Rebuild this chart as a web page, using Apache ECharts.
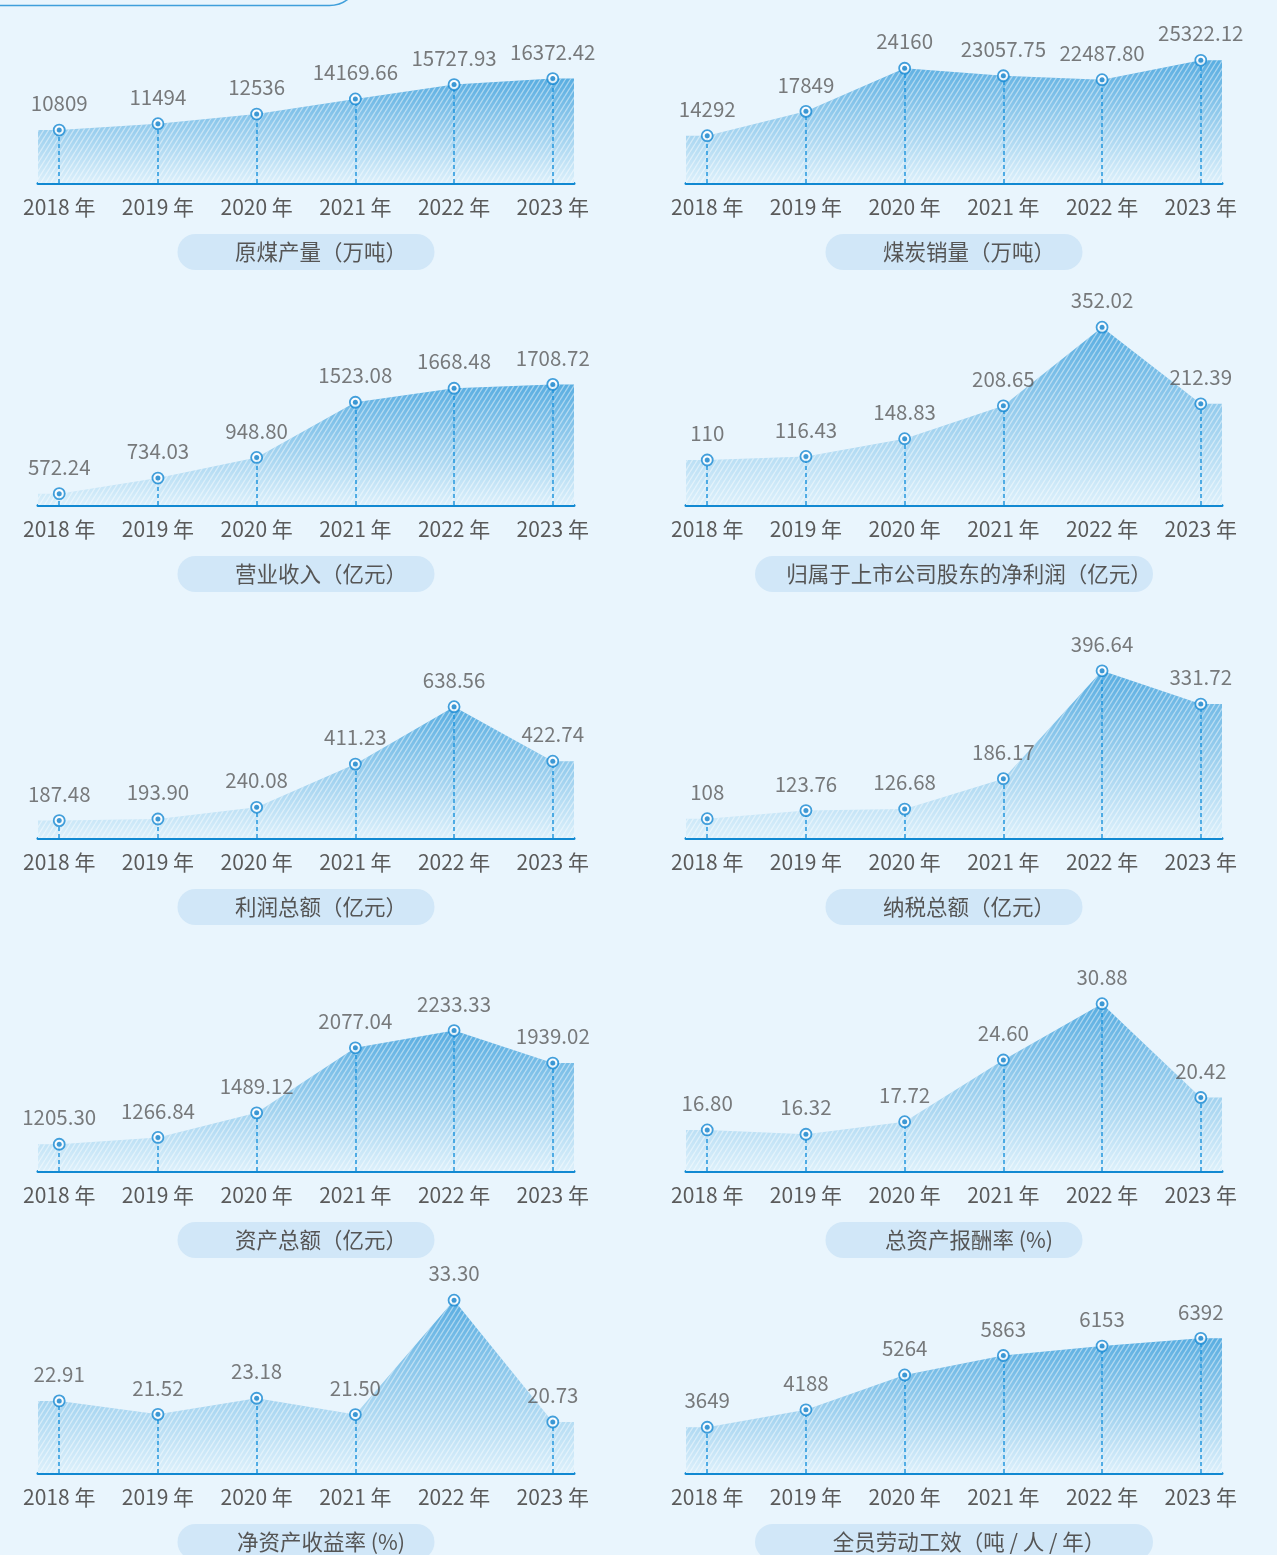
<!DOCTYPE html>
<html><head><meta charset="utf-8">
<script src="https://cdn.jsdelivr.net/npm/echarts@6/dist/echarts.min.js"></script>
<style>html,body{margin:0;padding:0;background:#e9f5fd;}#c{width:1277px;height:1555px;}</style>
</head><body><div id="c"></div>
<script>
// ---- data ----
const years = ['2018', '2019', '2020', '2021', '2022', '2023'];
const coalOutput   = ['10809', '11494', '12536', '14169.66', '15727.93', '16372.42'];
const coalSales    = ['14292', '17849', '24160', '23057.75', '22487.80', '25322.12'];
const revenue      = ['572.24', '734.03', '948.80', '1523.08', '1668.48', '1708.72'];
const netProfit    = ['110', '116.43', '148.83', '208.65', '352.02', '212.39'];
const totalProfit  = ['187.48', '193.90', '240.08', '411.23', '638.56', '422.74'];
const totalTax     = ['108', '123.76', '126.68', '186.17', '396.64', '331.72'];
const totalAssets  = ['1205.30', '1266.84', '1489.12', '2077.04', '2233.33', '1939.02'];
const roa          = ['16.80', '16.32', '17.72', '24.60', '30.88', '20.42'];
const roe          = ['22.91', '21.52', '23.18', '21.50', '33.30', '20.73'];
const productivity = ['3649', '4188', '5264', '5863', '6153', '6392'];
const titles = ['原煤产量（万吨）', '煤炭销量（万吨）', '营业收入（亿元）', '归属于上市公司股东的净利润（亿元）',
  '利润总额（亿元）', '纳税总额（亿元）', '资产总额（亿元）', '总资产报酬率 (%)', '净资产收益率 (%)', '全员劳动工效（吨 / 人 / 年）'];

// ---- layout / scales ----
const FONT = '"Noto Sans CJK SC", "Noto Sans", sans-serif';
const panels = [
  { data: coalOutput,   min: 5078,  max: 23472, wide: false },
  { data: coalSales,    min: 7369,  max: 32241, wide: false },
  { data: revenue,      min: 453.9, max: 2222.5, wide: false },
  { data: netProfit,    min: 28,    max: 337.8, wide: true },
  { data: totalProfit,  min: 118.6, max: 791.9, wide: false },
  { data: totalTax,     min: 70.3,  max: 402.1, wide: false },
  { data: totalAssets,  min: 963.6, max: 2500.3, wide: false },
  { data: roa,          min: 12.22, max: 31.18, wide: false },
  { data: roe,          min: 15.47, max: 33.01, wide: false },
  { data: productivity, min: 2238,  max: 7483, wide: true }
];
const colLeft = [38, 686];
const gridW = 536;
const baselines = [183, 505, 838, 1171, 1473];
const H = 170;
const XPAD = 0.215;

function hatch() {
  const c = document.createElement('canvas');
  c.width = 5; c.height = 8;
  const g = c.getContext('2d');
  g.strokeStyle = 'rgba(255,255,255,0.45)';
  g.lineWidth = 1.3;
  g.beginPath();
  for (const o of [-5, 0, 5]) { g.moveTo(o, 8); g.lineTo(o + 5, 0); }
  g.stroke();
  return c;
}
const hatchImg = hatch();

const grid = [], xAxis = [], yAxis = [], series = [], graphic = [];
panels.forEach((p, i) => {
  const row = Math.floor(i / 2), col = i % 2;
  const base = baselines[row];
  const vals = p.data.map(Number);
  grid.push({ left: colLeft[col], width: gridW, top: base - H, height: H });
  xAxis.push({
    gridIndex: i, type: 'value', min: -XPAD, max: 5 + XPAD,
    axisLine: { show: true, onZero: false, lineStyle: { color: '#1189d2', width: 3 } },
    axisTick: { show: false }, splitLine: { show: false },
    axisLabel: {
      customValues: [0, 1, 2, 3, 4, 5],
      formatter: v => years[Math.round(v)] + ' 年',
      color: '#5a5a5a', fontSize: 21, margin: 14, fontFamily: FONT
    }
  });
  yAxis.push({ gridIndex: i, type: 'value', min: p.min, max: p.max, show: false });
  const ext = [[-XPAD, vals[0]]].concat(vals.map((v, k) => [k, v])).concat([[5 + XPAD, vals[5]]]);
  series.push({
    type: 'line', xAxisIndex: i, yAxisIndex: i, data: ext, symbol: 'none', silent: true, clip: false,
    lineStyle: { width: 0 }, z: 1, animation: false,
    areaStyle: {
      origin: 'start', opacity: 1,
      color: new echarts.graphic.LinearGradient(0, 0, 0, 1, [
        { offset: 0, color: '#58ade1' }, { offset: 1, color: '#dcf0fb' }])
    }
  });
  series.push({
    type: 'line', xAxisIndex: i, yAxisIndex: i, data: ext, symbol: 'none', silent: true, clip: false,
    lineStyle: { width: 0 }, z: 2, animation: false,
    areaStyle: { origin: 'start', opacity: 1, color: { image: hatchImg, repeat: 'repeat' } },
    markLine: {
      silent: true, symbol: ['none', 'none'], animation: false,
      label: { show: false },
      lineStyle: { type: [4, 3], color: '#2597dd', width: 1.5 },
      data: vals.map((v, k) => [{ coord: [k, p.min] }, { coord: [k, v] }])
    }
  });
  series.push({
    type: 'scatter', xAxisIndex: i, yAxisIndex: i, clip: false, animation: false,
    data: vals.map((v, k) => [k, v]), symbolSize: 11, z: 5,
    itemStyle: { color: '#ffffff', borderColor: '#1688d2', borderWidth: 1.8 },
    label: {
      show: true, position: 'top', distance: 10,
      formatter: d => p.data[d.dataIndex],
      color: '#5a5a5a', fontSize: 20.5, fontFamily: FONT
    }
  });
  series.push({
    type: 'scatter', xAxisIndex: i, yAxisIndex: i, clip: false, animation: false,
    data: vals.map((v, k) => [k, v]), symbolSize: 5, z: 6,
    itemStyle: { color: '#0f80cb' }
  });
  const cx = colLeft[col] + gridW / 2;
  const pw = p.wide ? 398 : 257;
  graphic.push({
    type: 'group', left: cx - pw / 2, top: base + 69 - 18,
    children: [
      { type: 'rect', shape: { x: 0, y: 0, width: pw, height: 36, r: 18 }, style: { fill: '#d1e7f8' } },
      { type: 'text', x: pw / 2 + 15, y: 18, style: { text: titles[i], fill: '#555555', font: '21.5px ' + FONT, align: 'center', verticalAlign: 'middle' } }
    ]
  });
});
graphic.push({
  type: 'rect', left: -40, top: -60, z: 10,
  shape: { x: 0, y: 0, width: 397, height: 63, r: 30 },
  style: { fill: 'none', stroke: '#3f9fdb', lineWidth: 1.5 }
});

const chart = echarts.init(document.getElementById('c'));
chart.setOption({
  backgroundColor: '#e9f5fd',
  animation: false,
  grid, xAxis, yAxis, series, graphic
});
</script></body></html>
